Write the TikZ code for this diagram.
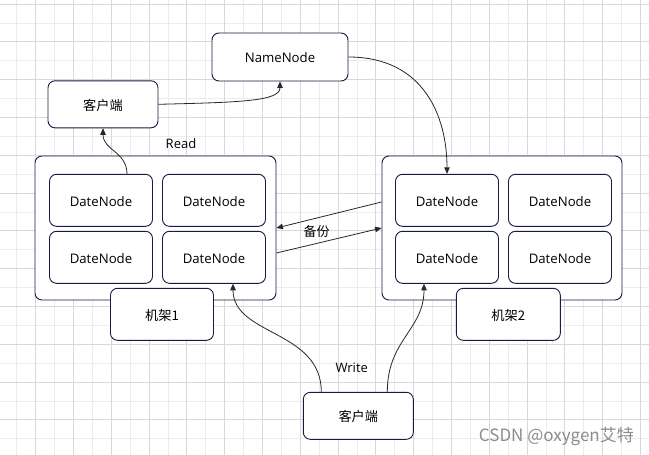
\documentclass[tikz,border=0pt]{standalone}
\usepackage{fontspec}
\setmainfont{Open Sans}
\newfontfamily\cjk{Noto Sans CJK SC}
\usetikzlibrary{arrows.meta}
\definecolor{bd}{RGB}{22,27,66}
\definecolor{ln}{RGB}{40,40,40}
\definecolor{gl}{RGB}{236,236,236}
\definecolor{gd}{RGB}{216,216,216}
\definecolor{wmc}{RGB}{140,140,140}
\begin{document}
\begin{tikzpicture}[x=1pt,y=-1pt,
  box/.style={draw=bd,line width=0.9pt,fill=white,rounded corners=7pt,inner sep=0pt,text height=12pt,text depth=0pt,font=\fontsize{13.2}{15}\selectfont},
  dn/.style={box,minimum width=103pt,minimum height=52pt},
  conn/.style={draw=ln,line width=0.8pt,-{Triangle[length=6.5pt,width=5.5pt]}},
  lab/.style={font=\fontsize{13}{15}\selectfont,inner sep=0pt}]
\useasboundingbox (0,0) rectangle (649,455);
\fill[white] (0,0) rectangle (649,455);
\begin{scope}
\clip (0,0) rectangle (649,455);
\foreach \k in {0,...,17} {
  \draw[gl,line width=0.8pt] ({16.7+37.8*\k},0) -- ({16.7+37.8*\k},455);
}
\foreach \k in {0,...,12} {
  \draw[gl,line width=0.8pt] (0,{22.9+37.8*\k}) -- (649,{22.9+37.8*\k});
}
\foreach \k in {0,...,17} {
  \draw[gd,line width=0.8pt] ({35.6+37.8*\k},0) -- ({35.6+37.8*\k},455);
}
\foreach \k in {0,...,12} {
  \draw[gd,line width=0.8pt] (0,{4+37.8*\k}) -- (649,{4+37.8*\k});
}
\end{scope}

% racks
\node[box,minimum width=241pt,minimum height=144pt] (r1) at (155.5,228) {};
\node[box,minimum width=240pt,minimum height=144pt] (r2) at (502,228) {};

% data nodes
\node[dn] (d11) at (101,200.3) {DateNode};
\node[dn] (d12) at (214,200.3) {DateNode};
\node[dn] (d13) at (101,257.3) {DateNode};
\node[dn] (d14) at (214,257.3) {DateNode};
\node[dn] (d21) at (447,200.3) {DateNode};
\node[dn] (d22) at (560,200.3) {DateNode};
\node[dn] (d23) at (447,257.3) {DateNode};
\node[dn] (d24) at (560,257.3) {DateNode};

% rack labels
\node[box,minimum width=103pt,minimum height=52pt] (j1) at (162,314.3) {\cjk 机架1};
\node[box,minimum width=104pt,minimum height=52pt] (j2) at (508.3,314.3) {\cjk 机架2};

% other nodes
\node[box,minimum width=136pt,minimum height=48pt] (nn) at (280,57) {NameNode};
\node[box,minimum width=110pt,minimum height=47pt] (c1) at (103,104.3) {\cjk 客户端};
\node[box,minimum width=110pt,minimum height=47pt] (c2) at (358.3,415.8) {\cjk 客户端};

% connectors
\draw[conn] (c1.east) .. controls +(80,-2) and +(0,20) .. (nn.south);
\draw[conn] (nn.east) .. controls +(75,0) and +(0,-58) .. (d21.north);
\draw[conn] ([xshift=26pt]d11.north) .. controls +(0,-22) and +(0,22) .. (c1.south);
\draw[conn] ([yshift=26pt]r2.west) -- (r1.east);
\draw[conn] ([yshift=-25pt]r1.east) -- (r2.west);
\draw[conn] ([xshift=-37pt]c2.north) .. controls +(0,-62) and +(0,52) .. ([xshift=19pt]d14.south);
\draw[conn] ([xshift=29pt]c2.north) .. controls +(0,-52) and +(0,46) .. ([xshift=-23pt]d23.south);

% labels
\node[lab] (rd) at (181,143.5) {Read};
\node[lab] (bf) at (316.7,232) {\cjk 备份};
\node[lab] (wr) at (351.7,367.8) {Write};
\node[anchor=east,inner sep=0pt,text=wmc,font=\cjk\fontsize{17}{20}\selectfont] (wm) at (634,436) {CSDN @oxygen艾特};
\end{tikzpicture}
\end{document}
